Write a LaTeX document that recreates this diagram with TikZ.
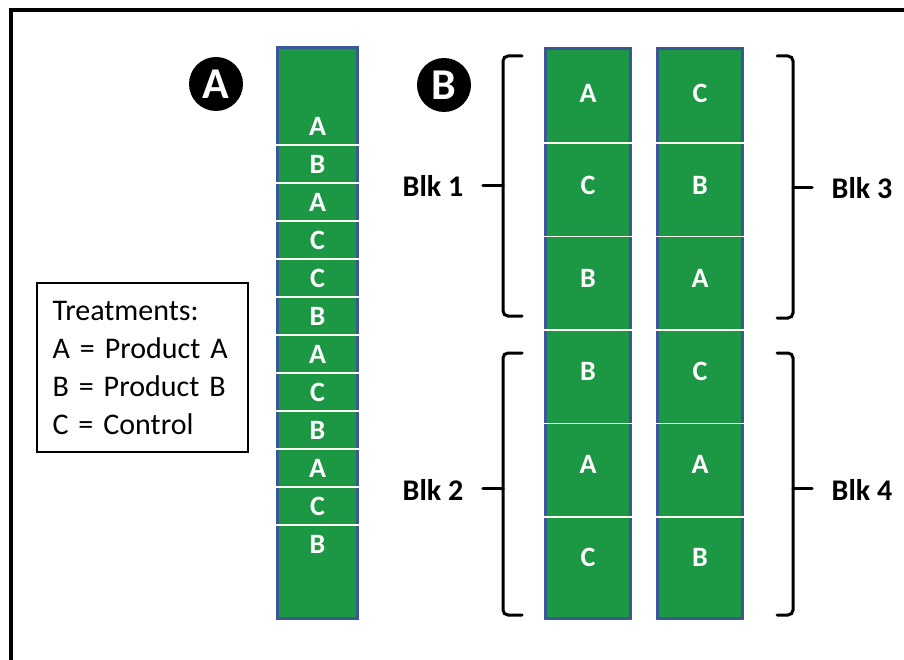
\documentclass[tikz,border=0pt]{standalone}
\usepackage{fontspec}
\setmainfont{Carlito}
\usetikzlibrary{positioning}
\definecolor{plotgreen}{RGB}{28,152,68}
\definecolor{plotedge}{RGB}{58,88,150}

\begin{document}
\begin{tikzpicture}[x=1pt, y=-1pt,
	plot/.style={draw=plotedge, line width=3pt, fill=plotgreen, rectangle, inner sep=0pt},
	trt/.style={text=white, font=\fontsize{28}{28}\selectfont\bfseries},
	sep/.style={draw=white!95!yellow, line width=1.6pt},
	badge/.style={circle, fill=black, text=white, minimum size=54pt, inner sep=0pt, font=\fontsize{44}{44}\selectfont\bfseries},
	blk/.style={font=\fontsize{30}{30}\selectfont\bfseries},
	bracket/.style={draw=black, line width=3pt, rounded corners=5pt, line cap=round}]
	\useasboundingbox (0,0) rectangle (904,660);
	\clip (0,0) rectangle (904,660);
	%frame
	\draw[line width=3.5pt] (11,10) rectangle (930,690);

	%layout A
	\node[badge] (badgeA) at (216,84) {A};
	\node[plot, minimum width=80pt, minimum height=571pt] (colA) at (317.5,333) {};
	\foreach \y in {1,...,11}
		\draw[sep] (colA.west |- 0,107+38*\y) -- (colA.east |- 0,107+38*\y);
	\foreach \t [count=\i] in {A,B,A,C,C,B,A,C,B,A,C,B}
		\node[trt] (a\i) at (317.5,88+38*\i) {\t};

	%treatments key
	\node[draw, line width=1.5pt, text width=180pt, inner xsep=15.5pt, minimum height=169pt, align=left,
		font=\fontsize{30}{38}\selectfont] (key) at (142.5,367.5) {Treatments:\\A = Product A\\B = Product B\\C = Control};

	%layout B
	\node[badge] (badgeB) at (444,85) {B};
	\node[plot, minimum width=85pt, minimum height=570pt] (colB1) at (588,333.5) {};
	\node[plot, minimum width=85pt, minimum height=570pt, right=24pt of colB1] (colB2) {};
	\foreach \y in {0,...,4} {
		\draw[sep] (colB1.west |- 0,143+93.5*\y) -- (colB1.east |- 0,143+93.5*\y);
		\draw[sep] (colB2.west |- 0,143+93.5*\y) -- (colB2.east |- 0,143+93.5*\y);
	}
	\foreach \t [count=\i] in {A,C,B,B,A,C}
		\node[trt] (b\i) at (colB1.center |- 0,93+92.8*\i-92.8) {\t};
	\foreach \t [count=\i] in {C,B,A,C,A,B}
		\node[trt] (c\i) at (colB2.center |- 0,93+92.8*\i-92.8) {\t};

	%blocks
	\node[blk] (blk1) at (433,186) {Blk 1};
	\node[blk] (blk2) at (433,490) {Blk 2};
	\node[blk] (blk3) at (862,188) {Blk 3};
	\node[blk] (blk4) at (862,490) {Blk 4};
	\coordinate (m1) at (503,186);
	\coordinate (m2) at (503,488);
	\coordinate (m3) at (793,188);
	\coordinate (m4) at (793,488);
	\draw[bracket] (522,56) -- (503,56) -- (503,316) -- (522,316);
	\draw[bracket] (522,353) -- (503,353) -- (503,615) -- (522,615);
	\draw[bracket] (777,56) -- (793,56) -- (793,318) -- (777,318);
	\draw[bracket] (777,353) -- (793,353) -- (793,615) -- (777,615);
	\draw[bracket, shorten >=16pt] (m1) -- (blk1.east);
	\draw[bracket, shorten >=16pt] (m2) -- (blk2.east |- m2);
	\draw[bracket, shorten >=16pt] (m3) -- (blk3.west);
	\draw[bracket, shorten >=16pt] (m4) -- (blk4.west |- m4);
\end{tikzpicture}
\end{document}
